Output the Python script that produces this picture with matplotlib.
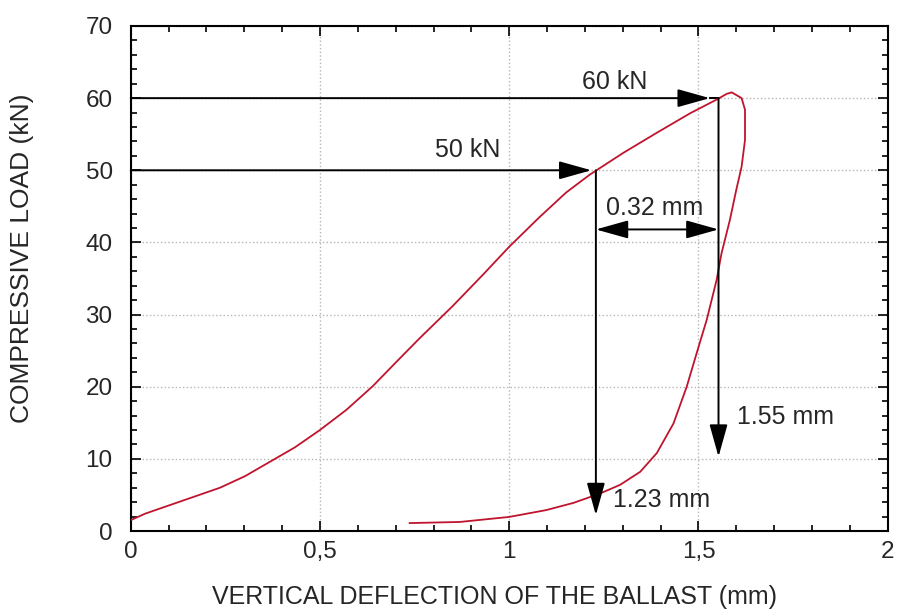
import matplotlib
import matplotlib.pyplot as plt
from matplotlib.ticker import MultipleLocator, FuncFormatter

matplotlib.use('Agg')

plt.rcParams['font.family'] = ['Liberation Sans', 'DejaVu Sans']

# Courbe de chargement puis de déchargement (mm, kN)
deflection = [0.0, 0.038, 0.104, 0.170, 0.236, 0.302, 0.368, 0.434, 0.5, 0.570,
              0.64, 0.703, 0.763, 0.851, 0.932, 1.0, 1.08, 1.15, 1.213, 1.301,
              1.390, 1.478, 1.548, 1.575, 1.588, 1.614, 1.623, 1.623, 1.614,
              1.600, 1.583, 1.561, 1.548, 1.522, 1.495, 1.469, 1.434, 1.390,
              1.346, 1.293, 1.240, 1.17, 1.098, 1.0, 0.869, 0.737]
load = [1.5, 2.4, 3.6, 4.8, 6.0, 7.6, 9.6, 11.6, 14.0, 16.8,
        20.1, 23.5, 26.7, 31.2, 35.6, 39.4, 43.5, 46.9, 49.4, 52.4,
        55.2, 57.9, 59.8, 60.6, 60.8, 60.0, 58.4, 54.2, 50.5,
        47.3, 43.1, 38.5, 34.8, 29.3, 24.6, 20.0, 14.9, 10.8,
        8.2, 6.4, 5.2, 3.9, 2.9, 1.95, 1.25, 1.1]

# Repères
load_levels = [60, 50]
level_labels = ['60 kN', '50 kN']
residual = [1.553, 1.229]
residual_labels = ['1.55 mm', '1.23 mm']
gap_label = '0.32 mm'

txt = '#262626'

fig = plt.figure(figsize=(8.98, 6.12), dpi=100)
ax = fig.add_axes([130.7 / 898, 1 - 531 / 612, 757 / 898, 505 / 612])

ax.plot(deflection, load, color='#c0142e', lw=1.3, zorder=3)

ax.set_xlim(0, 2)
ax.set_ylim(0, 70)
ax.xaxis.set_major_locator(MultipleLocator(0.5))
ax.xaxis.set_minor_locator(MultipleLocator(0.1))
ax.yaxis.set_major_locator(MultipleLocator(10))
ax.yaxis.set_minor_locator(MultipleLocator(2))
ax.xaxis.set_major_formatter(FuncFormatter(lambda v, p: ('%g' % v).replace('.', ',')))

ax.tick_params(which='both', direction='in', top=True, right=True,
               colors='black', labelcolor=txt, labelsize=17.5, width=1.2)
ax.tick_params(which='major', length=7)
ax.tick_params(which='minor', length=4.5)
ax.tick_params(axis='x', pad=7)
ax.tick_params(axis='y', pad=13)
for s in ax.spines.values():
    s.set_linewidth(1.5)

ax.grid(True, which='major', ls=':', color='#b5b5b5', lw=1.0)

ax.set_xlabel('VERTICAL DEFLECTION OF THE BALLAST (mm)', fontsize=18, color=txt, va='center')
ax.set_ylabel('COMPRESSIVE LOAD (kN)', fontsize=19, color=txt, va='center')
ax.xaxis.set_label_coords(0.481, -0.131)
ax.yaxis.set_label_coords(-0.1436, 0.54)

head = dict(arrowstyle='-|>,head_length=1.0,head_width=0.28', color='black',
            lw=1.4, mutation_scale=20, shrinkA=0, shrinkB=0)
dbl = dict(arrowstyle='<|-|>,head_length=1.0,head_width=0.28', color='black',
           lw=1.4, mutation_scale=20, shrinkA=0, shrinkB=0)

# Flèches horizontales (charge) puis verticales (déflexion résiduelle)
ax.annotate('', xy=(1.53, load_levels[0]), xytext=(0, load_levels[0]), arrowprops=head, zorder=4)
ax.plot([1.53, residual[0]], [load_levels[0]] * 2, color='black', lw=1.4)
ax.annotate('', xy=(1.217, load_levels[1]), xytext=(0, load_levels[1]), arrowprops=head, zorder=4)
ax.annotate('', xy=(residual[0], 10.3), xytext=(residual[0], load_levels[0]), arrowprops=head, zorder=4)
ax.annotate('', xy=(residual[1], 2.2), xytext=(residual[1], load_levels[1]), arrowprops=head, zorder=4)
ax.annotate('', xy=(residual[0], 41.8), xytext=(residual[1], 41.8), arrowprops=dbl, zorder=4)

ax.text(1.28, 62.3, level_labels[0], fontsize=18, color=txt, ha='center', va='center')
ax.text(0.891, 52.8, level_labels[1], fontsize=18, color=txt, ha='center', va='center')
ax.text(1.385, 44.8, gap_label, fontsize=18, color=txt, ha='center', va='center')
ax.text(1.602, 15.8, residual_labels[0], fontsize=18, color=txt, ha='left', va='center')
ax.text(1.274, 4.3, residual_labels[1], fontsize=18, color=txt, ha='left', va='center')

plt.savefig('out.png', dpi=100)
plt.close()
